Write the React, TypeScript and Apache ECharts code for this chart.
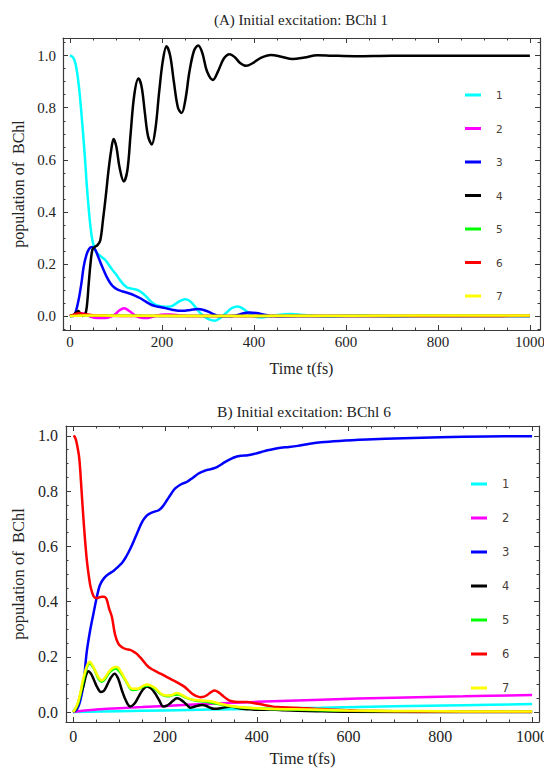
import React, { useEffect, useRef } from "react";
import * as echarts from "echarts";

const NAMES = ["1", "2", "3", "4", "5", "6", "7"];
const COLORS = ["#00FFFF", "#FF00FF", "#0000FF", "#000000", "#00FF00", "#FF0000", "#FFFF00"];

const X_MAJOR = [0, 200, 400, 600, 800, 1000];
const X_MINOR = [50, 100, 150, 250, 300, 350, 450, 500, 550, 650, 700, 750, 850, 900, 950];
const Y_MAJOR = [0, 0.2, 0.4, 0.6, 0.8, 1.0];
const Y_MINOR = [-0.05, 0.05, 0.1, 0.15, 0.25, 0.3, 0.35, 0.45, 0.5, 0.55, 0.65, 0.7, 0.75, 0.85, 0.9, 0.95, 1.05];

const TITLE_A = "(A) Initial excitation: BChl 1";
const TITLE_B = "B) Initial excitation: BChl 6";
const X_NAME = "Time t(fs)";
const Y_NAME = "population of  BChl";

// Panel A: initial excitation on BChl 1
const A1: number[][] = [[0, 1.0], [4, 0.998], [8, 0.99], [12, 0.97], [16, 0.932], [20, 0.875], [24, 0.8], [28, 0.715], [32, 0.625], [36, 0.52], [40, 0.43], [44, 0.355], [48, 0.3], [52, 0.268], [57, 0.245], [63, 0.235], [70, 0.225], [77, 0.215], [84, 0.198], [92, 0.178], [100, 0.16], [108, 0.14], [116, 0.122], [124, 0.11], [134, 0.105], [146, 0.1], [156, 0.09], [165, 0.076], [172, 0.063], [180, 0.05], [190, 0.04], [200, 0.036], [212, 0.035], [224, 0.04], [238, 0.056], [250, 0.064], [260, 0.058], [272, 0.036], [283, 0.012], [293, -0.004], [304, -0.014], [315, -0.018], [328, -0.006], [340, 0.012], [352, 0.03], [365, 0.036], [377, 0.027], [388, 0.012], [402, -0.002], [416, -0.006], [432, -0.002], [452, 0.004], [480, 0.007], [510, 0.004], [540, 0.0], [570, -0.002], [600, 0.001], [630, 0.003], [660, 0.001], [700, -0.002], [740, 0.0], [780, 0.002], [850, 0.0], [900, 0.001], [1000, 0.0]];
const A2: number[][] = [[0, 0], [10, 0.004], [20, 0.01], [30, 0.009], [45, -0.003], [60, -0.008], [75, -0.008], [95, 0.002], [108, 0.022], [118, 0.03], [130, 0.018], [142, 0.002], [155, -0.007], [168, -0.008], [185, 0.0], [205, 0.006], [220, 0.006], [240, 0.002], [270, 0.0], [320, 0.0], [1000, 0.0]];
const A3: number[][] = [[0, 0], [8, 0.0], [13, 0.018], [19, 0.062], [25, 0.125], [30, 0.19], [36, 0.235], [42, 0.258], [48, 0.265], [55, 0.255], [62, 0.225], [70, 0.19], [80, 0.15], [88, 0.126], [96, 0.11], [105, 0.1], [115, 0.094], [128, 0.087], [140, 0.079], [153, 0.068], [165, 0.055], [178, 0.042], [192, 0.035], [207, 0.03], [222, 0.024], [236, 0.02], [250, 0.02], [262, 0.023], [279, 0.027], [292, 0.022], [302, 0.016], [312, 0.007], [322, 0.0], [340, -0.001], [355, 0.0], [372, 0.008], [390, 0.013], [405, 0.011], [420, 0.006], [437, 0.0], [470, -0.001], [520, 0.0], [1000, 0.0]];
const A4: number[][] = [[0, 0], [8, 0.004], [13, 0.012], [18, 0.019], [23, 0.008], [27, 0.0], [33, 0.004], [37, 0.04], [41, 0.126], [45, 0.205], [49, 0.255], [54, 0.265], [60, 0.272], [66, 0.29], [72, 0.37], [78, 0.46], [84, 0.56], [90, 0.64], [95, 0.68], [101, 0.65], [108, 0.57], [117, 0.517], [125, 0.56], [132, 0.7], [140, 0.85], [149, 0.912], [156, 0.88], [163, 0.78], [170, 0.69], [178, 0.659], [186, 0.72], [194, 0.86], [202, 0.98], [210, 1.036], [218, 1.0], [226, 0.9], [235, 0.8], [243, 0.78], [251, 0.83], [260, 0.94], [270, 1.02], [279, 1.039], [288, 1.01], [298, 0.94], [311, 0.907], [322, 0.94], [335, 0.99], [347, 1.006], [358, 0.995], [370, 0.972], [383, 0.961], [398, 0.972], [415, 0.992], [437, 1.003], [460, 0.996], [484, 0.987], [510, 0.993], [538, 1.002], [570, 1.0], [620, 0.998], [700, 1.0], [800, 1.0], [900, 1.0], [1000, 1.0]];
const A5: number[][] = [[0, 0], [20, 0.003], [50, 0.002], [100, 0.001], [200, 0.0], [1000, 0.0]];
const A6: number[][] = [[0, 0], [10, 0.006], [20, 0.01], [30, 0.007], [50, 0.003], [80, 0.001], [150, 0.0], [900, 0.0], [1000, 0.001]];
const A7: number[][] = [[0, 0], [30, 0.002], [100, 0.001], [300, 0.0], [600, 0.001], [1000, 0.002]];

// Panel B: initial excitation on BChl 6
const B1: number[][] = [[0, 0], [100, 0.003], [200, 0.006], [300, 0.009], [400, 0.012], [540, 0.016], [700, 0.021], [850, 0.025], [1000, 0.029]];
const B2: number[][] = [[0, 0], [20, 0.005], [50, 0.009], [100, 0.014], [150, 0.018], [200, 0.022], [300, 0.03], [400, 0.037], [540, 0.045], [700, 0.052], [850, 0.057], [1000, 0.062]];
const B3: number[][] = [[0, 0], [8, 0.01], [15, 0.04], [22, 0.1], [29, 0.215], [36, 0.29], [44, 0.358], [51, 0.415], [58, 0.46], [67, 0.485], [77, 0.5], [88, 0.512], [98, 0.527], [106, 0.54], [113, 0.557], [120, 0.578], [128, 0.605], [139, 0.648], [150, 0.689], [159, 0.71], [168, 0.72], [177, 0.726], [186, 0.731], [195, 0.745], [204, 0.767], [213, 0.79], [222, 0.81], [235, 0.825], [248, 0.834], [260, 0.848], [273, 0.864], [285, 0.873], [295, 0.878], [305, 0.882], [314, 0.888], [332, 0.907], [350, 0.922], [365, 0.928], [380, 0.93], [397, 0.936], [410, 0.942], [423, 0.948], [437, 0.953], [452, 0.957], [470, 0.96], [489, 0.964], [510, 0.97], [540, 0.977], [580, 0.982], [640, 0.987], [720, 0.992], [800, 0.995], [900, 0.998], [1000, 0.999]];
const B4: number[][] = [[0, 0], [8, 0.02], [15, 0.06], [22, 0.095], [28, 0.135], [33, 0.148], [38, 0.14], [44, 0.12], [52, 0.09], [60, 0.073], [67, 0.078], [73, 0.096], [82, 0.125], [90, 0.139], [98, 0.12], [106, 0.078], [115, 0.04], [124, 0.02], [133, 0.03], [142, 0.055], [151, 0.08], [160, 0.093], [170, 0.085], [179, 0.066], [188, 0.04], [196, 0.02], [204, 0.023], [212, 0.033], [220, 0.045], [226, 0.05], [233, 0.046], [241, 0.036], [248, 0.025], [255, 0.016], [265, 0.02], [274, 0.024], [282, 0.026], [290, 0.022], [298, 0.016], [306, 0.012], [318, 0.013], [330, 0.017], [343, 0.02], [355, 0.016], [368, 0.012], [385, 0.01], [401, 0.008], [430, 0.009], [460, 0.007], [490, 0.005], [530, 0.003], [600, 0.001], [1000, 0.0]];
const B5: number[][] = [[0, 0], [10, 0.03], [20, 0.1], [30, 0.165], [36, 0.175], [44, 0.16], [55, 0.12], [62, 0.11], [70, 0.122], [80, 0.146], [92, 0.158], [104, 0.14], [116, 0.108], [128, 0.08], [140, 0.082], [155, 0.094], [165, 0.096], [178, 0.084], [190, 0.066], [205, 0.057], [220, 0.063], [230, 0.064], [245, 0.052], [265, 0.042], [290, 0.037], [320, 0.028], [350, 0.019], [400, 0.013], [480, 0.009], [600, 0.005], [800, 0.002], [1000, 0.001]];
const B6: number[][] = [[0, 1.0], [3, 0.997], [6, 0.984], [9, 0.96], [13, 0.918], [18, 0.8], [23, 0.677], [29, 0.557], [34, 0.49], [38, 0.45], [44, 0.42], [50, 0.413], [55, 0.414], [62, 0.418], [67, 0.418], [72, 0.41], [78, 0.375], [84, 0.345], [91, 0.28], [98, 0.248], [106, 0.235], [115, 0.228], [124, 0.225], [132, 0.218], [139, 0.21], [150, 0.19], [164, 0.163], [177, 0.15], [190, 0.139], [205, 0.126], [219, 0.114], [230, 0.104], [241, 0.093], [250, 0.08], [259, 0.066], [268, 0.058], [277, 0.054], [285, 0.056], [292, 0.062], [300, 0.072], [308, 0.078], [316, 0.072], [325, 0.06], [334, 0.048], [343, 0.04], [360, 0.036], [379, 0.036], [395, 0.032], [409, 0.028], [425, 0.023], [445, 0.018], [481, 0.016], [525, 0.012], [570, 0.008], [620, 0.005], [700, 0.003], [800, 0.002], [1000, 0.001]];
const B7: number[][] = [[0, 0], [8, 0.025], [15, 0.066], [20, 0.11], [26, 0.148], [31, 0.172], [36, 0.182], [42, 0.168], [48, 0.148], [55, 0.125], [62, 0.114], [69, 0.125], [77, 0.145], [86, 0.16], [95, 0.163], [104, 0.145], [113, 0.118], [121, 0.095], [128, 0.084], [137, 0.084], [146, 0.088], [153, 0.096], [161, 0.1], [170, 0.095], [179, 0.086], [186, 0.074], [193, 0.064], [202, 0.06], [212, 0.06], [219, 0.065], [226, 0.069], [235, 0.063], [245, 0.054], [259, 0.045], [277, 0.042], [299, 0.039], [321, 0.03], [350, 0.02], [379, 0.016], [423, 0.012], [481, 0.01], [540, 0.008], [600, 0.006], [700, 0.004], [800, 0.003], [900, 0.002], [1000, 0.002]];

const SERIES_A = [A1, A2, A3, A4, A5, A6, A7];
const SERIES_B = [B1, B2, B3, B4, B5, B6, B7];

const SERIF = "Liberation Serif";
const FRAME = "#3a3a3a";
const TEXT = "#222222";

interface PanelCfg {
  gridIndex: number;
  xMin: number; xMax: number; yMin: number; yMax: number;
  tickFont: number; nameFont: number;
  xLabelMargin: number; yLabelMargin: number;
  xNameGap: number; yNameGap: number;
}

function buildAxes(c: PanelCfg) {
  const inRange = (v: number) => v >= c.yMin && v <= c.yMax;
  const yMinor = Y_MINOR.filter(inRange);
  const base = { type: "value", gridIndex: c.gridIndex, splitLine: { show: false } };
  const lineOn = { show: true, onZero: false, lineStyle: { color: FRAME, width: 1.2 } };
  const lineOff = { show: false, onZero: false };
  const tick = (vals: number[], len: number) => ({ show: true, inside: true, length: len, customValues: vals, lineStyle: { color: FRAME, width: 1 } });
  const xBase = { ...base, min: c.xMin, max: c.xMax };
  const yBase = { ...base, min: c.yMin, max: c.yMax };
  const xAxes = [
    {
      ...xBase, position: "bottom", axisLine: lineOn, axisTick: tick(X_MAJOR, 5),
      axisLabel: { show: true, customValues: X_MAJOR, margin: c.xLabelMargin, fontFamily: SERIF, fontSize: c.tickFont, color: TEXT, formatter: (v: number) => String(Math.round(v)) },
      name: X_NAME, nameLocation: "middle", nameGap: c.xNameGap,
      nameTextStyle: { fontFamily: SERIF, fontSize: c.nameFont, color: TEXT },
    },
    { ...xBase, position: "bottom", axisLine: lineOff, axisTick: tick(X_MINOR, 2.5), axisLabel: { show: false } },
    { ...xBase, position: "top", axisLine: lineOn, axisTick: tick(X_MAJOR, 5), axisLabel: { show: false } },
    { ...xBase, position: "top", axisLine: lineOff, axisTick: tick(X_MINOR, 2.5), axisLabel: { show: false } },
  ];
  const yAxes = [
    {
      ...yBase, position: "left", axisLine: lineOn, axisTick: tick(Y_MAJOR, 5),
      axisLabel: { show: true, customValues: Y_MAJOR, margin: c.yLabelMargin, fontFamily: SERIF, fontSize: c.tickFont, color: TEXT, formatter: (v: number) => v.toFixed(1) },
      name: Y_NAME, nameLocation: "middle", nameGap: c.yNameGap,
      nameTextStyle: { fontFamily: SERIF, fontSize: c.nameFont, color: TEXT },
    },
    { ...yBase, position: "left", axisLine: lineOff, axisTick: tick(yMinor, 2.5), axisLabel: { show: false } },
    { ...yBase, position: "right", axisLine: lineOn, axisTick: tick(Y_MAJOR, 5), axisLabel: { show: false } },
    { ...yBase, position: "right", axisLine: lineOff, axisTick: tick(yMinor, 2.5), axisLabel: { show: false } },
  ];
  return { xAxes, yAxes };
}

function buildSeries(data: number[][][], axisIndex: number) {
  return data.map((d, i) => ({
    type: "line",
    name: NAMES[i],
    xAxisIndex: axisIndex,
    yAxisIndex: axisIndex,
    data: d,
    showSymbol: false,
    symbol: "none",
    smooth: 0.35,
    color: COLORS[i],
    itemStyle: { color: COLORS[i] },
    lineStyle: { color: COLORS[i], width: 2.5 },
    emphasis: { disabled: true },
  }));
}

export default function App() {
  const ref = useRef<HTMLDivElement>(null);
  useEffect(() => {
    if (!ref.current) return;
    const chart = echarts.init(ref.current, undefined, { renderer: "svg" });
    const pa = buildAxes({ gridIndex: 0, xMin: -15, xMax: 1022, yMin: -0.054, yMax: 1.068, tickFont: 15, nameFont: 16, xLabelMargin: 4, yLabelMargin: 7, xNameGap: 30, yNameGap: 36 });
    const pb = buildAxes({ gridIndex: 1, xMin: -16, xMax: 1015, yMin: -0.036, yMax: 1.036, tickFont: 16, nameFont: 16.5, xLabelMargin: 6, yLabelMargin: 8, xNameGap: 28, yNameGap: 39 });
    const legendBase = {
      orient: "vertical", icon: "rect", itemWidth: 16, itemHeight: 3, padding: 0,
      selectedMode: false, data: NAMES,
    };
    chart.setOption({
      animation: false,
      backgroundColor: "#ffffff",
      grid: [
        { left: 63, top: 38, width: 477, height: 292, containLabel: false, outerBoundsMode: "none" },
        { left: 66, top: 426, width: 473, height: 296, containLabel: false, outerBoundsMode: "none" },
      ],
      xAxis: [...pa.xAxes, ...pb.xAxes],
      yAxis: [...pa.yAxes, ...pb.yAxes],
      legend: [
        { ...legendBase, left: 465, top: 88, itemGap: 19.5, textStyle: { fontFamily: "DejaVu Sans", fontSize: 10.5, color: "#4a4038", lineHeight: 14, padding: [0, 0, 0, 10] } },
        { ...legendBase, left: 471, top: 477, itemGap: 20, textStyle: { fontFamily: "DejaVu Sans", fontSize: 11.5, color: "#4a4038", lineHeight: 14, padding: [0, 0, 0, 10] } },
      ],
      graphic: [
        { type: "text", x: 301, y: 20, style: { text: TITLE_A, fontFamily: SERIF, fontSize: 15, fill: TEXT, align: "center", verticalAlign: "middle" } },
        { type: "text", x: 304, y: 411, style: { text: TITLE_B, fontFamily: SERIF, fontSize: 15.5, fill: TEXT, align: "center", verticalAlign: "middle" } },
      ],
      series: [...buildSeries(SERIES_A, 0), ...buildSeries(SERIES_B, 4)],
    });
    return () => chart.dispose();
  }, []);
  return <div ref={ref} style={{ position: "fixed", left: 0, top: 0, width: 544, height: 769 }} />;
}
